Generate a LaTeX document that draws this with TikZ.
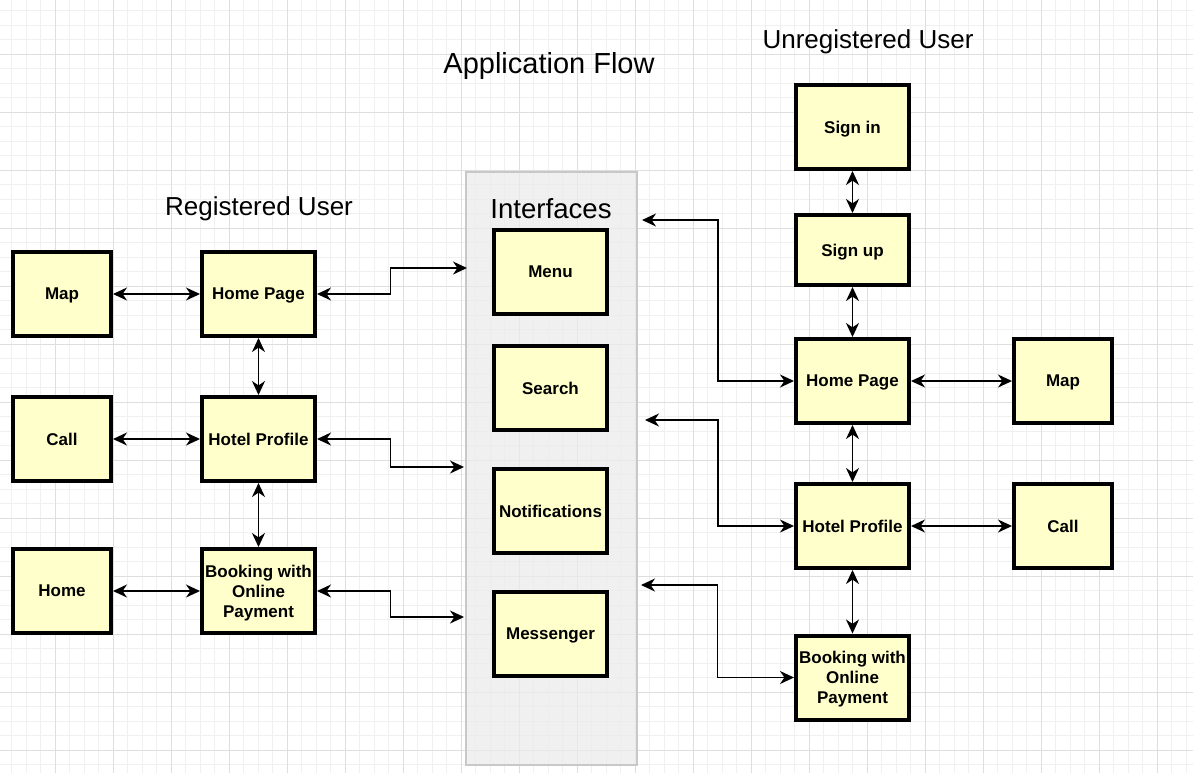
\documentclass[tikz,border=0pt]{standalone}
\usepackage{fontspec}
\setmainfont{Liberation Sans}
\usetikzlibrary{arrows.meta,calc}
\definecolor{boxfill}{HTML}{FFFFCC}
\definecolor{contfill}{HTML}{EBEBEB}
\definecolor{contline}{HTML}{C8C8C8}
\definecolor{gridminor}{HTML}{F0F0F0}
\definecolor{gridmajor}{HTML}{DEDEDE}
\begin{document}
\begin{tikzpicture}[x=0.5pt,y=-0.5pt,
  box/.style={draw=black, line width=2pt, fill=boxfill,
    font=\bfseries\fontsize{8.5}{10}\selectfont, align=center, inner sep=1pt,
    text depth=0pt, minimum height=42pt, minimum width=56.5pt},
  sbox/.style={box, minimum width=49pt},
  tip/.tip={Stealth[length=7pt,width=6.5pt,inset=2.2pt]},
  arr/.style={line width=0.75pt, tip-tip},
  title/.style={font=\fontsize{14.5}{17}\selectfont, inner sep=0pt},
  utitle/.style={font=\fontsize{13}{15}\selectfont, inner sep=0pt}]
% canvas
\useasboundingbox (0,0) rectangle (1193,773);
\fill[white] (0,0) rectangle (1193,773);
\foreach \i in {0,...,83} {\draw[gridminor, line width=0.5pt] ({-3+14.5*\i},0) -- ({-3+14.5*\i},773);}
\foreach \i in {0,...,54} {\draw[gridminor, line width=0.5pt] (0,{-4+14.5*\i}) -- (1193,{-4+14.5*\i});}
\foreach \i in {0,...,21} {\draw[gridmajor, line width=0.5pt] ({-3+58*\i},0) -- ({-3+58*\i},773);}
\foreach \i in {0,...,14} {\draw[gridmajor, line width=0.5pt] (0,{-4+58*\i}) -- (1193,{-4+58*\i});}
% container
\node[draw=contline, line width=0.75pt, fill=contfill, fill opacity=0.7, minimum width=85.5pt, minimum height=296.5pt, inner sep=0pt] (cont) at (551.5,468.5) {};
% titles
\node[title] (tapp) at (549,66) {Application Flow};
\node[utitle] (tunreg) at (868,42) {Unregistered User};
\node[utitle] (treg) at (259,209) {Registered User};
\node[title, font=\fontsize{13.8}{16}\selectfont] (tint) at (551,209) {Interfaces};
% left column
\node[sbox] (mapL) at (62,294) {Map};
\node[box] (homeL) at (258.5,294) {Home Page};
\node[sbox] (callL) at (62,439) {Call};
\node[box] (hotelL) at (258.5,439) {Hotel Profile};
\node[sbox] (homeLL) at (62,591) {Home};
\node[box] (bookL) at (258.5,591) {Booking with\\Online\\Payment};
% interfaces
\node[box] (menu) at (550.5,272) {Menu};
\node[box] (search) at (550.5,388) {Search};
\node[box] (notif) at (550.5,511) {Notifications};
\node[box] (mess) at (550.5,634) {Messenger};
% right column
\node[box] (signin) at (852.5,127) {Sign in};
\node[box, minimum height=35pt] (signup) at (852.5,250) {Sign up};
\node[box] (homeR) at (852.5,381) {Home Page};
\node[sbox] (mapR) at (1063,381) {Map};
\node[box] (hotelR) at (852.5,526) {Hotel Profile};
\node[sbox] (callR) at (1063,526) {Call};
\node[box] (bookR) at (852.5,677.5) {Booking with\\Online\\Payment};
% free ends at the container
\coordinate (l1) at (467,268);
\coordinate (l2) at (464,467);
\coordinate (l3) at (464,617);
\coordinate (r1) at (642,220);
\coordinate (r2) at (645,420);
\coordinate (r3) at (641,585);
% left connectors
\draw[arr] (mapL) -- (homeL);
\draw[arr] (callL) -- (hotelL);
\draw[arr] (homeLL) -- (bookL);
\draw[arr] (homeL) -- (hotelL);
\draw[arr] (hotelL) -- (bookL);
\draw[arr] (homeL.east) -| ($(homeL.east)!0.49!(l1)$) |- (l1);
\draw[arr] (hotelL.east) -| ($(hotelL.east)!0.5!(l2)$) |- (l2);
\draw[arr] (bookL.east) -| ($(bookL.east)!0.5!(l3)$) |- (l3);
% right connectors
\draw[arr] (signin) -- (signup);
\draw[arr] (signup) -- (homeR);
\draw[arr] (homeR) -- (hotelR);
\draw[arr] (hotelR) -- (bookR);
\draw[arr] (homeR) -- (mapR);
\draw[arr] (hotelR) -- (callR);
\draw[arr] (r1) -| ($(r1)!0.5!(homeR.west)$) |- (homeR.west);
\draw[arr] (r2) -| ($(r2)!0.49!(hotelR.west)$) |- (hotelR.west);
\draw[arr] (r3) -| ($(r3)!0.5!(bookR.west)$) |- (bookR.west);
\end{tikzpicture}
\end{document}
